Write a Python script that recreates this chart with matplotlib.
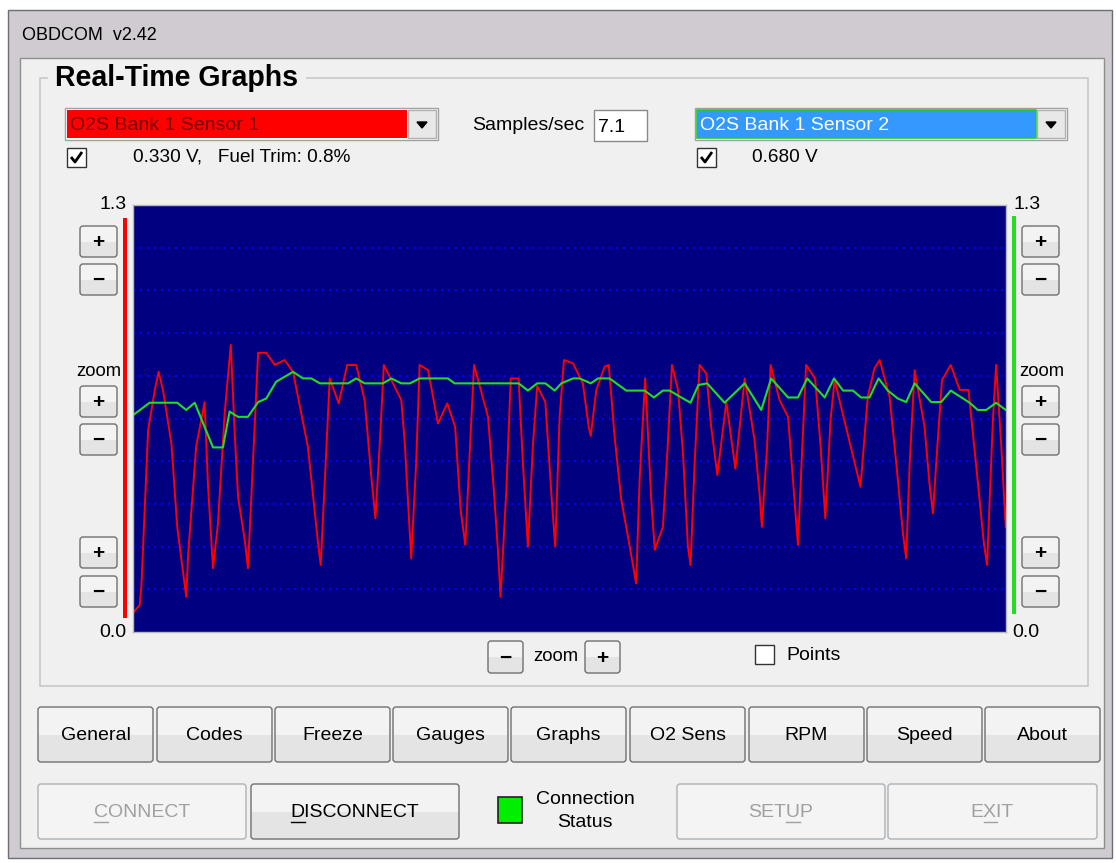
import numpy as np
import matplotlib
matplotlib.use("Agg")
import matplotlib.pyplot as plt
from matplotlib.patches import Rectangle, FancyBboxPatch, Polygon

plt.rcParams['font.family'] = ['Liberation Sans', 'DejaVu Sans']

# ---- data: O2 sensor voltages (V) vs time (s) ----
sensor1_t = [0.00, 0.23, 0.29, 0.52, 0.75, 0.88, 1.03, 1.32, 1.52, 1.83,
             1.89, 2.17, 2.46, 2.58, 2.75, 2.92, 3.15, 3.36, 3.49, 3.61,
             3.84, 3.95, 4.12, 4.30, 4.58, 4.87, 5.21, 5.50, 6.01, 6.36,
             6.45, 6.61, 6.76, 7.07, 7.36, 7.67, 7.96, 8.19, 8.33, 8.48,
             8.62, 9.22, 9.34, 9.47, 9.56, 9.73, 9.85, 10.14, 10.48, 10.80,
             11.07, 11.26, 11.42, 11.57, 11.72, 12.20, 12.40, 12.54, 12.63, 12.83,
             12.98, 13.25, 13.40, 13.57, 13.74, 13.89, 14.17, 14.40, 14.51, 14.66,
             14.81, 15.12, 15.46, 15.66, 15.73, 15.92, 16.21, 16.35, 16.55, 16.78,
             17.01, 17.21, 17.29, 17.41, 17.60, 17.81, 17.93, 18.21, 18.38, 18.52,
             18.73, 18.90, 19.07, 19.16, 19.30, 19.47, 19.70, 19.87, 20.08, 20.39,
             20.70, 21.02, 21.36, 21.53, 21.61, 21.79, 21.91, 22.22, 22.51, 22.68,
             22.85, 22.99, 23.13, 23.44, 23.63, 23.79, 23.97, 24.11, 25.00, 25.25,
             25.48, 25.66, 26.00, 26.23, 26.46, 26.57, 26.69, 26.86, 27.20, 27.37,
             27.49, 27.64, 27.80, 28.10, 28.41, 28.71, 28.98, 29.24, 29.35, 29.55,
             29.66, 29.84, 29.99]
sensor1_v = [0.058, 0.082, 0.143, 0.615, 0.737, 0.792, 0.737, 0.574, 0.320, 0.107,
             0.229, 0.564, 0.700, 0.442, 0.194, 0.331, 0.666, 0.874, 0.615, 0.412,
             0.280, 0.194, 0.513, 0.850, 0.850, 0.813, 0.828, 0.792, 0.564, 0.270,
             0.204, 0.493, 0.772, 0.696, 0.813, 0.813, 0.706, 0.473, 0.346, 0.574,
             0.813, 0.706, 0.574, 0.366, 0.224, 0.513, 0.813, 0.797, 0.635, 0.696,
             0.625, 0.371, 0.265, 0.544, 0.813, 0.655, 0.432, 0.250, 0.107, 0.432,
             0.772, 0.772, 0.513, 0.260, 0.564, 0.749, 0.700, 0.391, 0.260, 0.655,
             0.828, 0.818, 0.757, 0.625, 0.597, 0.737, 0.808, 0.813, 0.595, 0.402,
             0.290, 0.189, 0.148, 0.463, 0.772, 0.402, 0.250, 0.320, 0.574, 0.813,
             0.737, 0.544, 0.260, 0.204, 0.513, 0.813, 0.787, 0.625, 0.478, 0.700,
             0.497, 0.772, 0.584, 0.422, 0.320, 0.564, 0.813, 0.706, 0.655, 0.463,
             0.265, 0.544, 0.813, 0.772, 0.564, 0.346, 0.645, 0.767, 0.442, 0.716,
             0.803, 0.828, 0.716, 0.513, 0.300, 0.224, 0.513, 0.797, 0.625, 0.453,
             0.361, 0.564, 0.767, 0.813, 0.737, 0.737, 0.503, 0.270, 0.204, 0.645,
             0.813, 0.564, 0.320]

sensor2_t = [0.00, 0.57, 1.52, 1.83, 2.12, 2.75, 3.09, 3.32, 3.61, 3.95,
             4.30, 4.58, 4.92, 5.50, 5.84, 6.13, 6.42, 7.39, 7.67, 7.96,
             8.59, 8.88, 9.22, 9.52, 9.85, 10.82, 11.05, 13.25, 13.57, 13.89,
             14.17, 14.49, 14.72, 15.12, 15.35, 15.73, 15.98, 16.38, 16.95, 17.58,
             17.90, 18.21, 18.44, 18.90, 19.16, 19.43, 19.73, 20.33, 21.02, 21.59,
             21.93, 22.51, 22.85, 23.17, 23.77, 24.09, 24.40, 24.74, 25.02, 25.31,
             25.62, 25.94, 26.28, 26.57, 26.86, 27.43, 27.77, 28.10, 28.75, 29.03,
             29.32, 29.66, 29.99]
sensor2_v = [0.660, 0.698, 0.698, 0.676, 0.698, 0.562, 0.562, 0.671, 0.655, 0.655,
             0.700, 0.711, 0.762, 0.792, 0.772, 0.772, 0.757, 0.757, 0.772, 0.757,
             0.757, 0.772, 0.757, 0.757, 0.772, 0.772, 0.757, 0.757, 0.735, 0.757,
             0.757, 0.735, 0.757, 0.772, 0.772, 0.757, 0.772, 0.772, 0.735, 0.735,
             0.714, 0.735, 0.735, 0.711, 0.698, 0.752, 0.757, 0.698, 0.757, 0.676,
             0.772, 0.714, 0.714, 0.772, 0.714, 0.772, 0.735, 0.735, 0.714, 0.714,
             0.772, 0.735, 0.711, 0.700, 0.757, 0.700, 0.700, 0.735, 0.698, 0.676,
             0.676, 0.698, 0.676]

y_max = 1.3
grid_step = 0.13
tab_labels = ['General', 'Codes', 'Freeze', 'Gauges', 'Graphs', 'O2 Sens', 'RPM', 'Speed', 'About']

W, H = 1116, 863
fig = plt.figure(figsize=(W / 100, H / 100), dpi=100)
fig.patch.set_facecolor('white')
ui = fig.add_axes([0, 0, 1, 1])
ui.set_xlim(0, W)
ui.set_ylim(H, 0)
ui.axis('off')

FS = 19.5  # normal UI text, px


def pt(px):
    return px * 72 / 100


def rect(x0, y0, x1, y1, fc, ec='none', lw=1, z=1):
    ui.add_patch(Rectangle((x0, y0), x1 - x0, y1 - y0, facecolor=fc, edgecolor=ec, linewidth=lw, zorder=z))


def label(x, y, s, size=FS, color='black', ha='left', weight='normal', z=5):
    return ui.text(x, y, s, fontsize=pt(size), color=color, ha=ha, va='center',
                   fontweight=weight, zorder=z)


def button(x0, y0, x1, y1, s, enabled=True, size=FS, under=None, weight='normal'):
    ym = (y0 + y1) / 2
    ec = '#707070' if enabled else '#adb2b5'
    rect(x0, y0, x1, ym, '#f3f3f3' if enabled else '#f4f4f4', z=2)
    rect(x0, ym, x1, y1, '#e4e4e4' if enabled else '#f4f4f4', z=2)
    ui.add_patch(FancyBboxPatch((x0, y0), x1 - x0, y1 - y0, boxstyle='round,pad=0,rounding_size=3',
                                facecolor='none', edgecolor=ec, linewidth=1, zorder=3))
    t = label((x0 + x1) / 2, ym + 1, s, size=size, color='black' if enabled else '#a0a0a0',
              ha='center', weight=weight)
    if under is not None:
        r = fig.canvas.get_renderer()
        bb = t.get_window_extent(r)
        prop = t.get_fontproperties()
        w0 = r.get_text_width_height_descent(s[:under], prop, False)[0] if under else 0
        w1 = r.get_text_width_height_descent(s[:under + 1], prop, False)[0]
        yb = H - bb.y0 + 1
        ui.plot([bb.x0 + w0, bb.x0 + w1], [yb, yb], color=t.get_color(), lw=1, zorder=6)
    return t


def checkbox(x0, y0, checked):
    rect(x0, y0, x0 + 19, y0 + 19, 'white', ec='#333333', lw=1, z=4)
    if checked:
        ui.plot([x0 + 4, x0 + 8, x0 + 15], [y0 + 9, y0 + 14, y0 + 4], color='black', lw=2.0,
                solid_capstyle='butt', zorder=5)


def combo(x0, y0, x1, y1, fc, s, tc, focus=False):
    rect(x0, y0, x1, y1, 'white', ec='#a0a0a0', z=2)
    rect(x0 + 2, y0 + 2, x1 - 31, y1 - 2, fc, z=3)
    if focus:
        rect(x0 + 2, y0 + 2, x1 - 31, y1 - 2, 'none', ec='#22cc22', lw=1.2, z=4)
    label(x0 + 5, (y0 + y1) / 2 + 1, s, color=tc, size=FS)
    rect(x1 - 30, y0 + 2, x1 - 2, y1 - 2, '#e8e8e8', ec='#b0b0b0', z=4)
    cx, cy = x1 - 16, (y0 + y1) / 2 + 1
    ui.add_patch(Polygon([[cx - 5, cy - 3], [cx + 5, cy - 3], [cx, cy + 3]], closed=True,
                         facecolor='black', edgecolor='black', zorder=5))


# window chrome
rect(8, 10, 1112, 858, '#cfcbd0', ec='#6d6d75', lw=1, z=0)
label(22, 36, 'OBDCOM  v2.42', size=18)
rect(20, 58, 1104, 848, '#f0f0f0', ec='#8e8f8f', lw=1, z=1)

# group box
ui.add_patch(Rectangle((40, 78), 1048, 608, facecolor='none', edgecolor='#c9c9c9', lw=1.2, zorder=2))
rect(48, 66, 306, 90, '#f0f0f0', z=3)
label(55, 78, 'Real-Time Graphs', size=28.5, weight='bold')

# top controls
combo(65, 108, 438, 140, '#ff0000', 'O2S Bank 1 Sensor 1', '#7a0000')
label(472, 126, 'Samples/sec', size=FS)
rect(594, 110, 647, 141, 'white', ec='#8a8a8a', z=2)
label(598, 127, '7.1', size=FS)
combo(695, 108, 1067, 140, '#3399ff', 'O2S Bank 1 Sensor 2', 'white', focus=True)
checkbox(67, 148, True)
label(133, 157, '0.330 V,   Fuel Trim: 0.8%', size=19)
checkbox(697, 148, True)
label(752, 157, '0.680 V', size=19)

# scale labels and zoom controls
label(113, 204, '1.3', size=FS, ha='center')
label(113, 632, '0.0', size=FS, ha='center')
label(1027, 204, '1.3', size=FS, ha='center')
label(1026, 632, '0.0', size=FS, ha='center')
rect(123, 218, 127, 618, '#ff0000', z=2)
rect(1012, 216, 1016, 614, '#22dd22', z=2)
label(99, 371, 'zoom', size=18.5, ha='center')
label(1042, 371, 'zoom', size=18.5, ha='center')
for bx0 in (80, 1022):
    for by0, sym in ((226, '+'), (264, '\u2212'), (386, '+'), (424, '\u2212'), (537, '+'), (576, '\u2212')):
        button(bx0, by0, bx0 + 37, by0 + 31, sym, size=21, weight='bold')
button(488, 641, 523, 673, '\u2212', size=21, weight='bold')
label(556, 656, 'zoom', size=18.5, ha='center')
button(585, 641, 620, 673, '+', size=21, weight='bold')
checkbox(755, 645, False)
label(786, 655, 'Points', size=FS)

# tab buttons
tab_x = [38, 157, 275, 393, 511, 630, 749, 867, 985]
for xl, s in zip(tab_x, tab_labels):
    button(xl, 707, xl + 115, 762, s)

# bottom row
button(38, 784, 246, 839, 'CONNECT', enabled=False, under=0)
button(251, 784, 459, 839, 'DISCONNECT', under=0)
rect(498, 797, 522, 823, '#00ee00', ec='#222222', lw=1.2, z=3)
label(585, 799, 'Connection', size=FS, ha='center')
label(585, 822, 'Status', size=FS, ha='center')
button(677, 784, 885, 839, 'SETUP', enabled=False, under=3)
button(888, 784, 1097, 839, 'EXIT', enabled=False, under=1)

# graph area
ax = fig.add_axes([133 / W, 1 - 632 / H, (1006 - 133) / W, (632 - 205) / H])
ax.set_facecolor('#000080')
ax.set_xlim(0, 30)
ax.set_ylim(0, y_max)
ax.set_yticks(np.arange(grid_step, y_max - 0.01, grid_step))
ax.set_xticks([])
ax.grid(axis='y', color='#0000ff', linestyle=(0, (1, 2.6)), linewidth=1.4)
ax.tick_params(length=0, labelleft=False, labelbottom=False)
for sp in ax.spines.values():
    sp.set_color('#b8b8b8')
    sp.set_linewidth(1)
ax.plot(sensor1_t, sensor1_v, color='#ff0000', lw=1.4)
ax.plot(sensor2_t, sensor2_v, color='#22dd22', lw=1.5)

fig.savefig('out.png', dpi=100)
